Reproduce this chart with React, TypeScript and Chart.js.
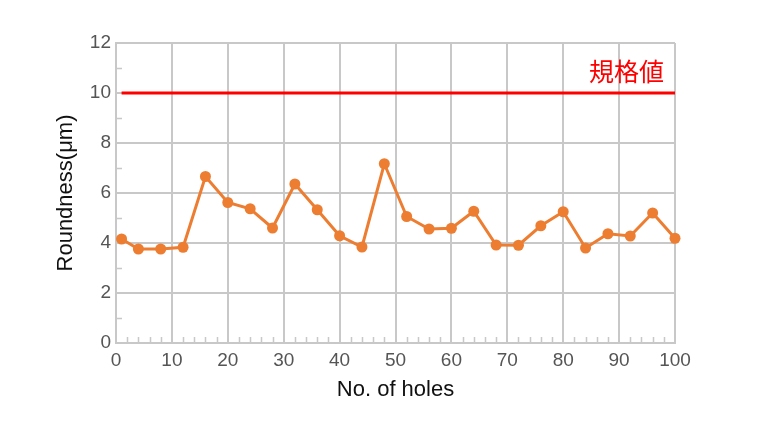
import React, { useEffect, useRef } from "react";
import { Chart, registerables } from "chart.js";

Chart.register(...registerables);

const HOLE_NUMBERS = [1, 4, 8, 12, 16, 20, 24, 28, 32, 36, 40, 44, 48, 52, 56, 60, 64, 68, 72, 76, 80, 84, 88, 92, 96, 100];
const ROUNDNESS = [4.16, 3.76, 3.76, 3.83, 6.66, 5.62, 5.37, 4.6, 6.36, 5.33, 4.29, 3.84, 7.17, 5.06, 4.56, 4.59, 5.27, 3.92, 3.91, 4.69, 5.25, 3.8, 4.37, 4.28, 5.2, 4.19];
const SPEC_LIMIT = 10;
const SPEC_RANGE = [1, 100];
const SPEC_LABEL = "規格値";
const X_TITLE = "No. of holes";
const Y_TITLE = "Roundness(μm)";
const Y_MINOR = [1, 3, 5, 7, 9, 11];
const X_MINOR = [2, 4, 6, 8, 12, 14, 16, 18, 22, 24, 26, 28, 32, 34, 36, 38, 42, 44, 46, 48, 52, 54, 56, 58, 62, 64, 66, 68, 72, 74, 76, 78, 82, 84, 86, 88, 92, 94, 96, 98];

const GRID = "#c8c8c8";
const ORANGE = "#ed7d31";
const RED = "#ff0000";
const FONT = "'Liberation Sans', Arial, sans-serif";

const extrasPlugin = {
  id: "extras",
  afterDraw(chart: any) {
    const { ctx, chartArea, scales } = chart;
    const xs = scales.x;
    const ys = scales.y;
    ctx.save();
    ctx.strokeStyle = GRID;
    ctx.lineWidth = 1.5;
    ctx.beginPath();
    for (const v of Y_MINOR) {
      const py = Math.round(ys.getPixelForValue(v)) + 0.5;
      ctx.moveTo(chartArea.left, py);
      ctx.lineTo(chartArea.left + 6, py);
    }
    for (const v of X_MINOR) {
      const px = Math.round(xs.getPixelForValue(v)) + 0.5;
      ctx.moveTo(px, chartArea.bottom);
      ctx.lineTo(px, chartArea.bottom - 6);
    }
    ctx.stroke();
    ctx.fillStyle = RED;
    ctx.font = "25px 'Noto Sans CJK JP', sans-serif";
    ctx.textAlign = "right";
    ctx.textBaseline = "alphabetic";
    ctx.fillText(SPEC_LABEL, xs.getPixelForValue(100) - 11, ys.getPixelForValue(SPEC_LIMIT) - 12);
    ctx.restore();
  },
};

export default function App() {
  const ref = useRef<HTMLCanvasElement>(null);
  useEffect(() => {
    if (!ref.current) return;
    const chart = new Chart(ref.current, {
      type: "line",
      data: {
        datasets: [
          {
            label: "spec",
            data: SPEC_RANGE.map((x) => ({ x, y: SPEC_LIMIT })),
            borderColor: RED,
            borderWidth: 3,
            pointRadius: 0,
            clip: false as any,
          },
          {
            label: "roundness",
            data: HOLE_NUMBERS.map((x, i) => ({ x, y: ROUNDNESS[i] })),
            borderColor: ORANGE,
            backgroundColor: ORANGE,
            borderWidth: 3,
            pointRadius: 5.5,
            pointBorderWidth: 0,
            pointBackgroundColor: ORANGE,
            tension: 0,
            clip: false as any,
          },
        ],
      },
      options: {
        animation: false,
        responsive: false,
        layout: { padding: { left: 0, right: 93, top: 43, bottom: 0 } },
        plugins: { legend: { display: false }, tooltip: { enabled: false } },
        scales: {
          x: {
            type: "linear",
            min: 0,
            max: 100,
            afterFit: (s: any) => {
              s.height = 89;
            },
            ticks: { stepSize: 10, color: "#555", font: { family: FONT, size: 19 }, padding: 6, maxRotation: 0 },
            grid: { color: GRID, lineWidth: 2, drawTicks: false },
            border: { color: GRID, width: 2 },
            title: { display: true, text: X_TITLE, color: "#111", font: { family: FONT, size: 22 }, padding: { top: 0, bottom: 29 } },
          },
          y: {
            type: "linear",
            min: 0,
            max: 12,
            afterFit: (s: any) => {
              s.width = 116;
            },
            ticks: { stepSize: 2, color: "#555", font: { family: FONT, size: 19 }, padding: 5 },
            grid: { color: GRID, lineWidth: 2, drawTicks: false },
            border: { color: GRID, width: 2 },
            title: { display: true, text: Y_TITLE, color: "#111", font: { family: FONT, size: 22 }, padding: { top: 53, bottom: 0 } },
          },
        },
      },
      plugins: [extrasPlugin],
    });
    return () => chart.destroy();
  }, []);
  return (
    <div style={{ position: "fixed", left: 0, top: 0, width: 768, height: 432, background: "#fff" }}>
      <canvas ref={ref} width={768} height={432} />
    </div>
  );
}
